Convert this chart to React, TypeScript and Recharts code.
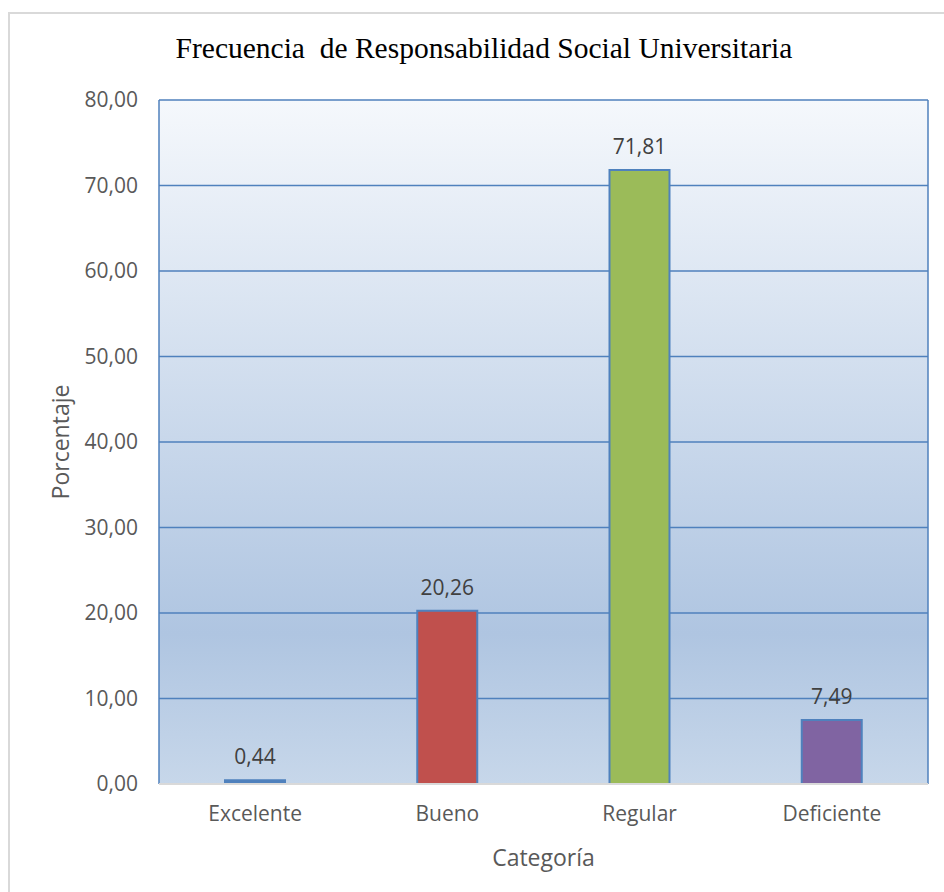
import {
  BarChart,
  Bar,
  Cell,
  XAxis,
  YAxis,
  CartesianGrid,
  LabelList,
  Label,
} from "recharts";

const CATEGORIES = ["Excelente", "Bueno", "Regular", "Deficiente"];
const PERCENTS = [0.44, 20.26, 71.81, 7.49];
const Y_TICKS = [0, 10, 20, 30, 40, 50, 60, 70, 80];

const COLORS = ["#4f81bd", "#c0504d", "#9bbb59", "#8064a2"];
const FONT = "'Open Sans', sans-serif";

const data = CATEGORIES.map((name, i) => ({ name, value: PERCENTS[i] }));

const fmt = (v: number) => v.toFixed(2).replace(".", ",");

const App = () => {
  return (
    <div
      style={{
        position: "absolute",
        left: 0,
        top: 0,
        width: 944,
        height: 892,
        background: "#fff",
        overflow: "hidden",
      }}
    >
      <div
        style={{
          position: "absolute",
          left: 8,
          top: 12,
          width: 960,
          height: 900,
          borderLeft: "2px solid #d9d9d9",
          borderTop: "2px solid #d9d9d9",
        }}
      />
      <div
        style={{
          position: "absolute",
          left: 0,
          top: 32,
          width: 968,
          textAlign: "center",
          fontFamily: "'Liberation Serif', serif",
          fontSize: 29.5,
          color: "#000",
        }}
      >
        Frecuencia&nbsp; de Responsabilidad Social Universitaria
      </div>
      <BarChart
        width={944}
        height={892}
        data={data}
        margin={{ top: 100, right: 16, bottom: 18, left: 0 }}
        style={{ position: "absolute", left: 0, top: 0 }}
      >
        <defs>
          <linearGradient id="plotBg" x1="0" y1="0" x2="0" y2="1">
            <stop offset="0%" stopColor="#f5f8fc" />
            <stop offset="78%" stopColor="#afc5e1" />
            <stop offset="100%" stopColor="#c7d7ea" />
          </linearGradient>
        </defs>
        <CartesianGrid
          fill="url(#plotBg)"
          stroke="#4f81bd"
          strokeWidth={1.5}
          verticalPoints={[159, 928]}
        />
        <XAxis
          dataKey="name"
          height={90}
          tickLine={false}
          axisLine={{ stroke: "#d9d9d9", strokeWidth: 2 }}
          tick={{ fill: "#595959", fontSize: 21, fontFamily: FONT }}
          tickMargin={16}
        >
          <Label
            value="Categoría"
            position="insideBottom"
            offset={8}
            style={{ fill: "#595959", fontSize: 23, fontFamily: FONT }}
          />
        </XAxis>
        <YAxis
          width={159}
          domain={[0, 80]}
          ticks={Y_TICKS}
          tickFormatter={fmt}
          tickLine={false}
          axisLine={false}
          interval={0}
          tick={{ fill: "#595959", fontSize: 21, fontFamily: FONT }}
          tickMargin={15}
        >
          <Label
            value="Porcentaje"
            angle={-90}
            position="insideLeft"
            offset={61}
            style={{
              fill: "#595959",
              fontSize: 23,
              fontFamily: FONT,
              textAnchor: "middle",
            }}
          />
        </YAxis>
        <Bar
          dataKey="value"
          barSize={60}
          stroke="#4f81bd"
          strokeWidth={2}
          isAnimationActive={false}
        >
          {data.map((d, i) => (
            <Cell key={`cell-${d.name}`} fill={COLORS[i]} />
          ))}
          <LabelList
            dataKey="value"
            position="top"
            offset={16}
            formatter={(v: number) => fmt(v)}
            style={{ fill: "#404040", fontSize: 21, fontFamily: FONT }}
          />
        </Bar>
      </BarChart>
    </div>
  );
};

export default App;
